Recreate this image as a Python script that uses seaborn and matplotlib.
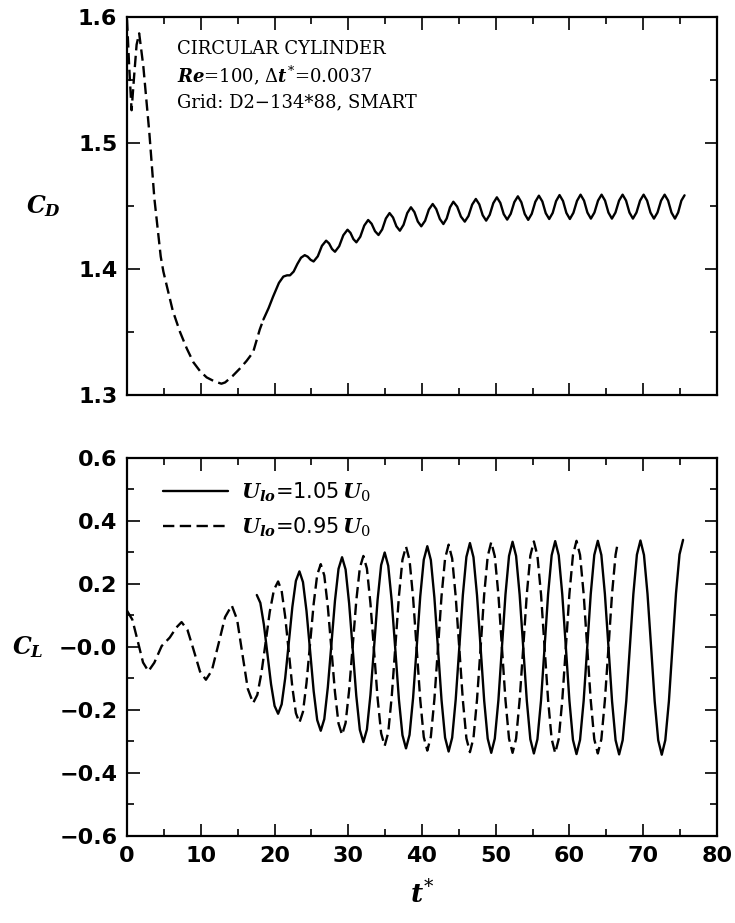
import matplotlib.pyplot as plt
import matplotlib.ticker as mticker
import seaborn as sns

# ---- data ----
# drag coefficient, start-up transient (dashed) and periodic part (solid)
cd_dash_t = [0.0, 0.3, 0.62, 0.95, 1.3, 1.65, 2.21, 3.03, 3.71, 4.57, 4.93, 5.38, 6.2, 7.19,
             8.1, 9.0, 9.9, 10.8, 11.8, 12.8, 13.3, 14.3, 15.3, 16.2, 17.1, 18.0, 18.5]
cd_dash_v = [1.598, 1.560, 1.526, 1.552, 1.578, 1.587, 1.561, 1.508, 1.456, 1.410, 1.398, 1.387,
             1.367, 1.350, 1.337, 1.326, 1.319, 1.314, 1.311, 1.309, 1.310, 1.315, 1.321, 1.327,
             1.334, 1.352, 1.360]

cd_t = [18.5, 19.2, 19.8, 20.6, 21.2, 21.7, 22.1, 22.6, 23.1, 23.6, 24.1,
        24.5, 24.9, 25.3, 25.87, 26.43, 27.0, 27.4, 27.8, 28.2, 28.77, 29.33, 29.9,
        30.3, 30.7, 31.1, 31.63, 32.17, 32.7, 33.17, 33.63, 34.1, 34.6, 35.1, 35.6,
        36.07, 36.53, 37.0, 37.5, 38.0, 38.5, 38.97, 39.43, 39.9, 40.42, 40.93, 41.45,
        41.93, 42.42, 42.9, 43.35, 43.8, 44.25,
        44.77, 45.28, 45.8, 46.3, 46.8, 47.3, 47.77, 48.23, 48.7, 49.18, 49.67, 50.15,
        50.62, 51.08, 51.55, 52.03, 52.52, 53.0, 53.47, 53.93, 54.4, 54.88, 55.37, 55.85,
        56.32, 56.78, 57.25, 57.72, 58.18, 58.65, 59.12, 59.58, 60.05, 60.53, 61.02, 61.5,
        61.97, 62.43, 62.9, 63.38, 63.87, 64.35, 64.82, 65.28, 65.75, 66.23, 66.72, 67.2,
        67.67, 68.13, 68.6, 69.08, 69.57, 70.05, 70.52, 70.98, 71.45, 71.93, 72.42, 72.9,
        73.37, 73.83, 74.3, 74.73, 75.17, 75.6]
cd_v = [1.360, 1.369, 1.378, 1.389, 1.394, 1.395, 1.395, 1.398, 1.404, 1.409, 1.411,
        1.4098, 1.4073, 1.406, 1.4101, 1.4184, 1.4225, 1.4203, 1.4159, 1.4137, 1.4181, 1.4268, 1.4312,
        1.4287, 1.4237, 1.4212, 1.4256, 1.4345, 1.4389, 1.4359, 1.4300, 1.427, 1.4314, 1.4401, 1.4444,
        1.4409, 1.4339, 1.4304, 1.4351, 1.4444, 1.449, 1.4452, 1.4377, 1.4339, 1.4383, 1.4472, 1.4516,
        1.4476, 1.4397, 1.4357, 1.4401, 1.4490, 1.4534,
        1.4495, 1.4416, 1.4376, 1.4421, 1.4511, 1.4556, 1.4513, 1.4427, 1.4384, 1.4430, 1.4523, 1.4569,
        1.4525, 1.4436, 1.4392, 1.4438, 1.4531, 1.4577, 1.4530, 1.4437, 1.4390, 1.4438, 1.4534, 1.4582,
        1.4536, 1.4443, 1.4397, 1.4445, 1.4539, 1.4587, 1.4540, 1.4445, 1.4397, 1.4446, 1.4541, 1.4590,
        1.4543, 1.4448, 1.4400, 1.4448, 1.4543, 1.4590, 1.4543, 1.4448, 1.4400, 1.4448, 1.4543, 1.4590,
        1.4543, 1.4448, 1.4400, 1.4448, 1.4543, 1.4590, 1.4543, 1.4448, 1.4400, 1.4448, 1.4543, 1.4590,
        1.4543, 1.4448, 1.4400, 1.4448, 1.4543, 1.4585]

# lift coefficient, sample times along the periodic part
cl_grid_t = [17.60, 18.08, 18.56, 19.05, 19.53, 20.01,
             20.49, 20.97, 21.45, 21.94, 22.42, 22.90,
             23.38, 23.86, 24.34, 24.83, 25.31, 25.79,
             26.27, 26.75, 27.23, 27.72, 28.20, 28.68,
             29.16, 29.64, 30.12, 30.61, 31.09, 31.57,
             32.05, 32.53, 33.01, 33.50, 33.98, 34.46,
             34.94, 35.42, 35.90, 36.39, 36.87, 37.35,
             37.83, 38.31, 38.79, 39.28, 39.76, 40.24,
             40.72, 41.20, 41.68, 42.17, 42.65, 43.13,
             43.61, 44.09, 44.57, 45.06, 45.54, 46.02,
             46.50, 46.98, 47.46, 47.95, 48.43, 48.91,
             49.39, 49.87, 50.36, 50.84, 51.32, 51.80,
             52.28, 52.76, 53.24, 53.73, 54.21, 54.69,
             55.17, 55.65, 56.14, 56.62, 57.10, 57.58,
             58.06, 58.54, 59.02, 59.51, 59.99, 60.47,
             60.95, 61.43, 61.92, 62.40, 62.88, 63.36,
             63.84, 64.32, 64.80, 65.29, 65.77, 66.25,
             66.73, 67.21, 67.70, 68.18, 68.66, 69.14,
             69.62, 70.10, 70.58, 71.07, 71.55, 72.03,
             72.51, 72.99, 73.48, 73.96, 74.44, 74.92,
             75.40]

# U_lo = 1.05 U_0 (solid)
cl_solid_v = [0.165, 0.140, 0.071, -0.024, -0.118, -0.187,
              -0.212, -0.182, -0.099, 0.014, 0.127, 0.210,
              0.240, 0.206, 0.114, -0.013, -0.140, -0.232,
              -0.266, -0.229, -0.128, 0.010, 0.147, 0.248,
              0.285, 0.246, 0.138, -0.009, -0.155, -0.263,
              -0.302, -0.262, -0.152, -0.001, 0.150, 0.260,
              0.300, 0.258, 0.145, -0.011, -0.167, -0.280,
              -0.322, -0.279, -0.162, -0.001, 0.160, 0.277,
              0.320, 0.276, 0.157, -0.006, -0.169, -0.288,
              -0.332, -0.288, -0.167, -0.001, 0.165, 0.286,
              0.330, 0.285, 0.164, -0.003, -0.170, -0.291,
              -0.336, -0.291, -0.169, -0.001, 0.167, 0.289,
              0.334, 0.289, 0.166, -0.002, -0.170, -0.293,
              -0.338, -0.293, -0.170, -0.001, 0.168, 0.291,
              0.336, 0.291, 0.167, -0.002, -0.171, -0.295,
              -0.340, -0.295, -0.171, -0.002, 0.168, 0.292,
              0.337, 0.292, 0.168, -0.002, -0.172, -0.296,
              -0.341, -0.296, -0.171, -0.002, 0.168, 0.293,
              0.338, 0.292, 0.168, -0.002, -0.172, -0.296,
              -0.342, -0.296, -0.172, -0.001, 0.170, 0.294,
              0.340]

# U_lo = 0.95 U_0 (dashed): start-up part, then same sample times as above
cl_dash_early_t = [0.0, 0.72, 1.45, 2.17, 2.9, 3.7, 4.7, 5.8, 6.7, 7.4, 8.2, 9.0, 9.9,
                   10.7, 11.5, 12.4, 13.3, 14.2, 14.93, 15.65, 16.38,
                   17.10, 17.67, 18.23, 18.80, 19.36, 19.93]
cl_dash_v = [0.115, 0.087, 0.019, -0.049, -0.077, -0.050, 0.003, 0.030, 0.062, 0.079, 0.054,
             -0.007, -0.078, -0.104, -0.075, 0.009, 0.095, 0.132, 0.087, -0.023, -0.133,
             -0.178, -0.152, -0.082, 0.015, 0.112, 0.182,
             0.208, 0.178, 0.096, -0.016, -0.128, -0.210,
             -0.240, -0.206, -0.114, 0.012, 0.137, 0.229,
             0.263, 0.227, 0.128, -0.008, -0.144, -0.243,
             -0.279, -0.241, -0.137, 0.005, 0.147, 0.251,
             0.289, 0.249, 0.138, -0.013, -0.163, -0.274,
             -0.314, -0.272, -0.156, 0.003, 0.161, 0.277,
             0.319, 0.276, 0.157, -0.005, -0.167, -0.286,
             -0.329, -0.285, -0.166, -0.002, 0.162, 0.281,
             0.325, 0.281, 0.160, -0.005, -0.169, -0.290,
             -0.334, -0.289, -0.167, -0.001, 0.166, 0.288,
             0.333, 0.288, 0.166, -0.002, -0.169, -0.291,
             -0.336, -0.291, -0.168, -0.001, 0.167, 0.290,
             0.335, 0.290, 0.167, -0.001, -0.169, -0.292,
             -0.337, -0.292, -0.169, 0.000, 0.169, 0.292,
             0.337, 0.292, 0.168, -0.001, -0.169, -0.293,
             -0.338, -0.293, -0.169, 0.000, 0.169, 0.293,
             0.325]
cl_dash_end_t = [66.5]

cd_ticks = [1.3, 1.4, 1.5, 1.6]
cd_ticklabels = ['1.3', '1.4', '1.5', '1.6']
cl_ticks = [-0.6, -0.4, -0.2, 0.0, 0.2, 0.4, 0.6]
cl_ticklabels = ['\u22120.6', '\u22120.4', '\u22120.2', '\u22120.0', '0.2', '0.4', '0.6']
t_ticks = [0, 10, 20, 30, 40, 50, 60, 70, 80]

legend_labels = [r'$U_{lo}$=1.05$\,U_0$', r'$U_{lo}$=0.95$\,U_0$']
info_lines = ['CIRCULAR CYLINDER',
              r'$Re$=100, $\Delta t^{*}$=0.0037',
              'Grid: D2\u2212134*88, SMART']

# ---- style ----
sns.set_style('ticks', rc={'axes.edgecolor': 'black', 'xtick.color': 'black',
                           'ytick.color': 'black', 'text.color': 'black',
                           'axes.labelcolor': 'black'})
plt.rcParams['font.family'] = ['DejaVu Sans']
plt.rcParams['mathtext.fontset'] = 'custom'
plt.rcParams['mathtext.it'] = 'DejaVu Serif:italic:bold'
plt.rcParams['mathtext.rm'] = 'DejaVu Serif'
plt.rcParams['mathtext.bf'] = 'DejaVu Serif:bold'

LW = 1.7
DASH = (0, (4.8, 2.3))
line_kw = dict(color='black', linewidth=LW, estimator=None, sort=False,
               solid_joinstyle='round', dash_joinstyle='round')

fig = plt.figure(figsize=(7.35, 9.23), dpi=100)
ax1 = fig.add_axes([0.1728, 0.5720, 0.8027, 0.4096])
ax2 = fig.add_axes([0.1728, 0.0943, 0.8027, 0.4095])

# ---- C_D panel ----
sns.lineplot(x=cd_dash_t, y=cd_dash_v, ax=ax1, linestyle=DASH, legend=False, **line_kw)
sns.lineplot(x=cd_t, y=cd_v, ax=ax1, legend=False, **line_kw)

# ---- C_L panel ----
cl_dash_t = cl_dash_early_t + cl_grid_t[6:102] + cl_dash_end_t
sns.lineplot(x=cl_dash_t, y=cl_dash_v, ax=ax2, linestyle=DASH,
             label=legend_labels[1], **line_kw)
sns.lineplot(x=cl_grid_t, y=cl_solid_v, ax=ax2, label=legend_labels[0], **line_kw)

for ax in (ax1, ax2):
    ax.set_xlim(0, 80)
    ax.set_xticks(t_ticks)
    ax.xaxis.set_minor_locator(mticker.MultipleLocator(5))
    ax.tick_params(which='both', direction='in', top=True, right=True, width=1.2)
    ax.tick_params(which='major', length=9, labelsize=16, pad=7)
    ax.tick_params(which='minor', length=5)
    for s in ax.spines.values():
        s.set_linewidth(1.6)

ax1.set_ylim(1.3, 1.6)
ax1.set_yticks(cd_ticks)
ax1.set_yticklabels(cd_ticklabels)
ax1.yaxis.set_minor_locator(mticker.MultipleLocator(0.05))
ax1.tick_params(labelbottom=False)
ax1.set_xlabel('')
ax1.set_ylabel(r'$C_D$', rotation=0, ha='right', va='center', fontsize=17, labelpad=12)

ax2.set_ylim(-0.6, 0.6)
ax2.set_yticks(cl_ticks)
ax2.set_yticklabels(cl_ticklabels)
ax2.yaxis.set_minor_locator(mticker.MultipleLocator(0.1))
ax2.set_ylabel(r'$C_L$', rotation=0, ha='right', va='center', fontsize=17, labelpad=11)
ax2.set_xlabel(r'$t^{*}$', fontsize=19, labelpad=11)

for ax in (ax1, ax2):
    for lab in ax.get_xticklabels() + ax.get_yticklabels():
        lab.set_fontweight('bold')

for i, line in enumerate(info_lines):
    ax1.text(0.085, 0.915 - 0.07 * i, line, transform=ax1.transAxes,
             family='DejaVu Serif', fontsize=13, va='center', ha='left')

handles, labels = ax2.get_legend_handles_labels()
order = [labels.index(legend_labels[0]), labels.index(legend_labels[1])]
ax2.legend([handles[i] for i in order], [labels[i] for i in order],
           loc='upper left', bbox_to_anchor=(0.03, 0.99), frameon=False,
           fontsize=15, handlelength=3.1, handletextpad=0.6, labelspacing=0.55)

fig.savefig('out.png', dpi=100)
